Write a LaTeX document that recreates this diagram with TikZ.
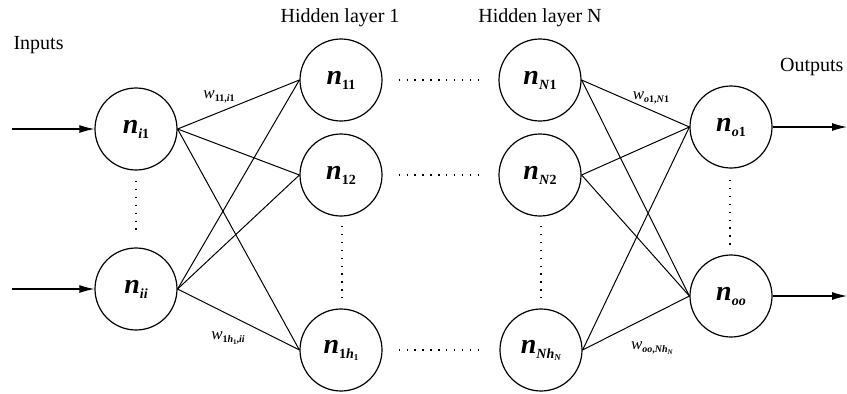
\documentclass[tikz,border=0pt]{standalone}
\usepackage{fontspec}
\setmainfont{Liberation Serif}
\usetikzlibrary{arrows.meta}
\newcommand{\nlab}[1]{{\fontsize{28}{28}\selectfont\bfseries\itshape n}\raisebox{-5pt}{\fontsize{14}{14}\selectfont\bfseries #1}}
\newcommand{\wlab}[1]{{\fontsize{17}{17}\selectfont\itshape w}\raisebox{-3pt}{\fontsize{10}{10}\selectfont\bfseries #1}}
\tikzset{
  neuron/.style={circle,draw,line width=1.2pt,minimum size=82pt,inner sep=0pt},
  link/.style={line width=1pt},
  dots/.style={line width=1.1pt,dash pattern=on 1.4pt off 6.5pt},
  arr/.style={line width=1.1pt,-{Latex[length=15pt,width=8pt]}},
  title/.style={font=\fontsize{20}{20}\selectfont}
}
\begin{document}
\begin{tikzpicture}[x=1pt,y=-1pt]
\useasboundingbox (0,0) rectangle (847,394);
% nodes
\node[neuron] (ni1) at (136,129) {\nlab{\textit{i}1}};
\node[neuron] (nii) at (136,289) {\nlab{\textit{ii}}};
\node[neuron] (n11) at (341,80) {\nlab{11}};
\node[neuron] (n12) at (341,175) {\nlab{12}};
\node[neuron] (n1h) at (341,350) {\nlab{1\textit{h}\raisebox{-2pt}{\fontsize{9}{9}\selectfont 1}}};
\node[neuron] (nN1) at (540,80) {\nlab{\textit{N}1}};
\node[neuron] (nN2) at (540,175) {\nlab{\textit{N}2}};
\node[neuron] (nNh) at (541,350) {\nlab{\textit{Nh}\raisebox{-2pt}{\fontsize{9}{9}\selectfont\textit{N}}}};
\node[neuron] (no1) at (731,127) {\nlab{\textit{o}1}};
\node[neuron] (noo) at (731,296) {\nlab{\textit{oo}}};
% titles
\node[title,anchor=west] (tin) at (10,45) {Inputs};
\node[title] (th1) at (340,18) {Hidden layer 1};
\node[title] (thN) at (540,18) {Hidden layer N};
\node[title,anchor=east] (tout) at (847,67) {Outputs};
% arrows
\coordinate (in1) at (12,129);
\coordinate (in2) at (12,289);
\coordinate (out1) at (847,127);
\coordinate (out2) at (847,296);
\draw[arr] (in1) -- (ni1.west);
\draw[arr] (in2) -- (nii.west);
\draw[arr] (no1.east) -- (out1);
\draw[arr] (noo.east) -- (out2);
% links input -> hidden 1
\foreach \a in {ni1,nii}
  \foreach \b in {n11,n12,n1h}
    \draw[link] (\a.east) -- (\b.west);
% links hidden N -> output
\foreach \a in {nN1,nN2,nNh}
  \foreach \b in {no1,noo}
    \draw[link] (\a.east) -- (\b.west);
% dotted
\coordinate (d1a) at (136,181); \coordinate (d1b) at (136,232);
\draw[dots] (d1a) -- (d1b);
\coordinate (d2a) at (342,226); \coordinate (d2b) at (342,298);
\draw[dots] (d2a) -- (d2b);
\coordinate (d3a) at (541,226); \coordinate (d3b) at (541,298);
\draw[dots] (d3a) -- (d3b);
\coordinate (d4a) at (730,180); \coordinate (d4b) at (730,248);
\draw[dots] (d4a) -- (d4b);
\draw[dots] ([xshift=16pt]n11.east) -- ([xshift=-16pt]nN1.west);
\draw[dots] ([xshift=16pt]n12.east) -- ([xshift=-16pt]nN2.west);
\draw[dots] ([xshift=16pt]n1h.east) -- ([xshift=-16pt]nNh.west);
% weight labels
\node (w1) at (219,97) {\wlab{11,\textit{i}1}};
\node (w2) at (228,338) {\wlab{1\textit{h}\raisebox{-1.5pt}{\fontsize{7}{7}\selectfont 1},\textit{ii}}};
\node (w3) at (651,98) {\wlab{\textit{o}1,\textit{N}1}};
\node (w4) at (652,348) {\wlab{\textit{oo},\textit{Nh}\raisebox{-1.5pt}{\fontsize{7}{7}\selectfont\textit{N}}}};
\end{tikzpicture}
\end{document}
